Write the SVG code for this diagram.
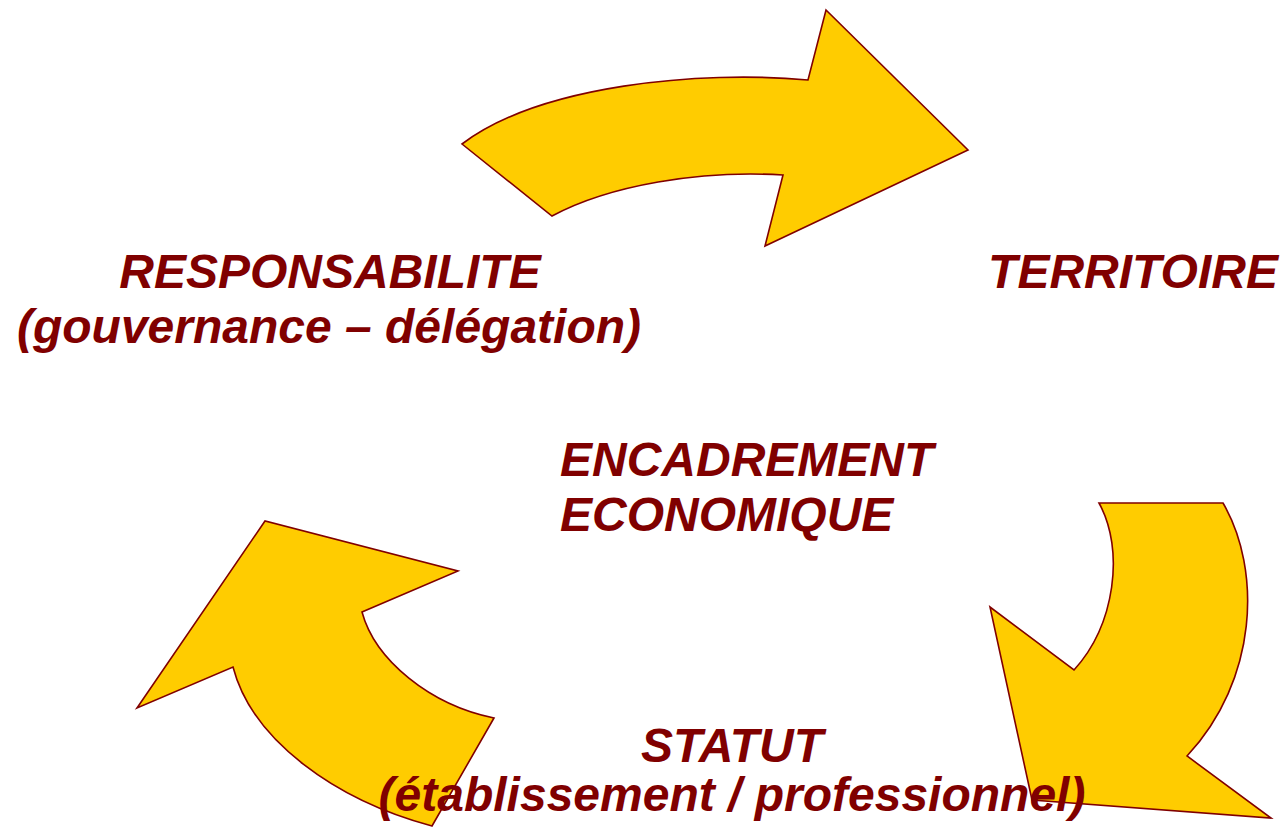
<svg xmlns="http://www.w3.org/2000/svg" width="1283" height="829" viewBox="0 0 1283 829">
<style>
.arrow{fill:#FFCC00;stroke:#800000;stroke-width:1.6;stroke-linejoin:miter}
.lbl{font-family:"Liberation Sans",Arial,sans-serif;font-weight:bold;font-style:italic;font-size:48px;fill:#800000}
</style>
<rect width="1283" height="829" fill="#FFFFFF"/>
<g id="connectors">
<path id="arrow-top" class="arrow" d="M462,144 L552,216 C610,185 700,170 783,175 L765,246 L968,150 L826,10 L808,80 C700,70 540,85 462,144 Z"/>
<path id="arrow-right" class="arrow" d="M1099,503 L1223,503 C1262,570 1258,680 1187,756 L1271,818 L1032,800 L990,607 L1074,670 C1115,625 1125,550 1099,503 Z"/>
<path id="arrow-left" class="arrow" d="M137,708 L265,521 L458,571 L362,612 C375,660 430,705 494,718 L432,826 C335,800 252,740 233,667 Z"/>
</g>
<g id="node-responsabilite">
<text class="lbl" x="330" y="288" text-anchor="middle">RESPONSABILITE</text>
<text class="lbl" x="329" y="343" text-anchor="middle">(gouvernance – délégation)</text>
</g>
<g id="node-territoire">
<text class="lbl" x="1133" y="288" text-anchor="middle">TERRITOIRE</text>
</g>
<g id="node-encadrement">
<text class="lbl" x="560" y="476">ENCADREMENT</text>
<text class="lbl" x="560" y="531">ECONOMIQUE</text>
</g>
<g id="node-statut">
<text class="lbl" x="732" y="762" text-anchor="middle">STATUT</text>
<text class="lbl" x="732" y="811" text-anchor="middle">(établissement / professionnel)</text>
</g>
</svg>
